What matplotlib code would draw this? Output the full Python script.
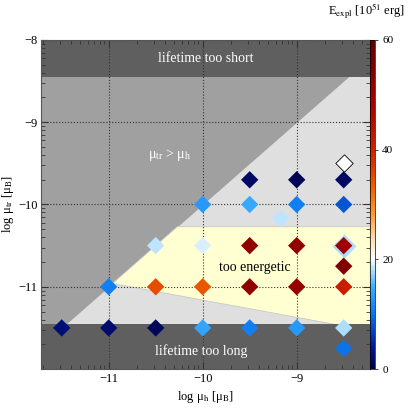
import numpy as np
import matplotlib
matplotlib.use('Agg')
import matplotlib.pyplot as plt
from matplotlib.colors import LinearSegmentedColormap

plt.rcParams['font.family'] = ['Liberation Serif', 'DejaVu Serif']
plt.rcParams['mathtext.fontset'] = 'stix'

# model grid: log mu_h, log mu_tr, explosion energy [1e51 erg]
log_mu_h = [-11.5, -11.0, -10.5, -10.0, -9.5, -9.0, -8.5,
            -11.0, -10.5, -10.0, -9.5, -9.0, -8.5,
            -8.5,
            -10.5, -10.0, -9.5, -9.0, -8.5,
            -9.17,
            -10.0, -9.5, -9.0, -8.5,
            -9.5, -9.0, -8.5,
            -8.5]
log_mu_tr = [-11.5, -11.5, -11.5, -11.5, -11.5, -11.5, -11.5,
             -11.0, -11.0, -11.0, -11.0, -11.0, -11.0,
             -10.75,
             -10.5, -10.5, -10.5, -10.5, -10.5,
             -10.17,
             -10.0, -10.0, -10.0, -10.0,
             -9.7, -9.7, -9.7,
             -11.75]
e_expl = [2.5, 2.0, 1.0, 14.0, 11.0, 13.0, 18.0,
          11.0, 35.0, 34.0, 52.0, 51.0, 41.0,
          55.0,
          18.5, 19.0, 52.0, 52.0, 50.0,
          18.5,
          13.0, 14.5, 11.0, 8.0,
          1.5, 0.8, 1.5,
          10.0]

# overlapping model drawn larger behind
over_h, over_tr, over_e = [-8.5], [-10.5], [18.0]
# model without energy (open symbol)
open_h, open_tr = [-8.5], [-9.5]

# region boundaries
short_lim = -8.45
long_lim = -11.45
energetic_top = -10.27
energetic_x0 = -10.96
energetic_slope = -0.21

xmin, xmax = -11.72, -8.22
ymin, ymax = -12.0, -8.0

cmap = LinearSegmentedColormap.from_list('eexpl', [
    (0.0, '#000046'), (0.07, '#001a9c'), (0.17, '#0a78f0'),
    (0.25, '#3fb0ff'), (0.31, '#c8e8ff'), (0.335, '#ffffff'),
    (0.40, '#ffd9a8'), (0.47, '#ff9a30'), (0.55, '#f06000'),
    (0.65, '#d02800'), (0.80, '#aa0000'), (1.0, '#600000')])

fig = plt.figure(figsize=(4.11, 4.11), dpi=100)
ax = fig.add_axes([0.0998, 0.102, 0.8005, 0.801])
ax.set_facecolor('#dfdfdf')

# mu_tr > mu_h region
xs = np.array([xmin - 0.1, xmax + 0.1])
ax.fill_between(xs, xs, ymax + 0.1, color='#a0a0a0', lw=0, zorder=1)

# too energetic region
xe = xmax + 0.1
yb = energetic_x0 + energetic_slope * (xe - energetic_x0)
ax.fill([energetic_top, xe, xe, energetic_x0],
        [energetic_top, energetic_top, yb, energetic_x0],
        color='#ffffd2', lw=0.6, ec='#c8c8c8', zorder=1)

ax.axhspan(short_lim, ymax + 0.1, color='#5f5f5f', lw=0, zorder=1.2)
ax.axhspan(ymin - 0.1, long_lim, color='#5f5f5f', lw=0, zorder=1.2)

# grid
for v in [-11, -10, -9]:
    ax.axvline(v, color='#333333', ls=':', lw=0.8, zorder=1.5)
for v in [-11, -10, -9, -8]:
    ax.axhline(v, color='#333333', ls=':', lw=0.8, zorder=1.5)

ax.scatter(over_h, over_tr, c=over_e, cmap=cmap, vmin=0, vmax=60,
           marker='D', s=150, lw=0, zorder=3)
sc = ax.scatter(log_mu_h, log_mu_tr, c=e_expl, cmap=cmap, vmin=0, vmax=60,
                marker='D', s=78, lw=0, zorder=4)
ax.scatter(open_h, open_tr, facecolors='white', edgecolors='black',
           marker='D', s=78, lw=0.6, zorder=4)

ax.text(-9.97, -8.23, 'lifetime too short', color='white', fontsize=10,
        ha='center', va='center', zorder=5)
ax.text(-10.02, -11.78, 'lifetime too long', color='white', fontsize=10,
        ha='center', va='center', zorder=5)
ax.text(-10.35, -9.4, r'μ$_{\rm tr}$ > μ$_{\rm h}$', color='white',
        fontsize=10, ha='center', va='center', zorder=5)
ax.text(-9.45, -10.77, 'too energetic', color='black', fontsize=10,
        ha='center', va='center', zorder=5)

ax.set_xlim(xmin, xmax)
ax.set_ylim(ymin, ymax)
ax.set_xticks([-11, -10, -9])
ax.set_yticks([-11, -10, -9, -8])
minor = [n + np.log10(k) for n in range(-13, -7) for k in range(2, 10)]
ax.set_xticks([m for m in minor if xmin < m < xmax], minor=True)
ax.set_yticks([m for m in minor if ymin < m < ymax], minor=True)
ax.tick_params(which='both', direction='in', top=True, right=True,
               color='#333333', labelsize=9, pad=2.5)
ax.tick_params(which='major', length=5)
ax.tick_params(which='minor', length=3)
ax.set_xlabel(r'log μ$_{\rm h}$ [μ$_{\rm B}$]', fontsize=9, labelpad=3)
ax.set_ylabel(r'log μ$_{\rm tr}$ [μ$_{\rm B}$]', fontsize=9)
ax.yaxis.set_label_coords(-0.075, 0.5)
for s in ax.spines.values():
    s.set_color('#555555')

cax = fig.add_axes([0.9003, 0.102, 0.011, 0.801])
cb = fig.colorbar(sc, cax=cax)
cb.set_ticks([0, 20, 40, 60])
cb.outline.set_linewidth(0.5)
cax.tick_params(labelsize=8, length=2, width=0.5)
fig.text(0.985, 0.948, r'E$_{\rm expl}$ [10$^{51}$ erg]', fontsize=9,
         ha='right', va='bottom')

fig.savefig('out.png', dpi=100)
